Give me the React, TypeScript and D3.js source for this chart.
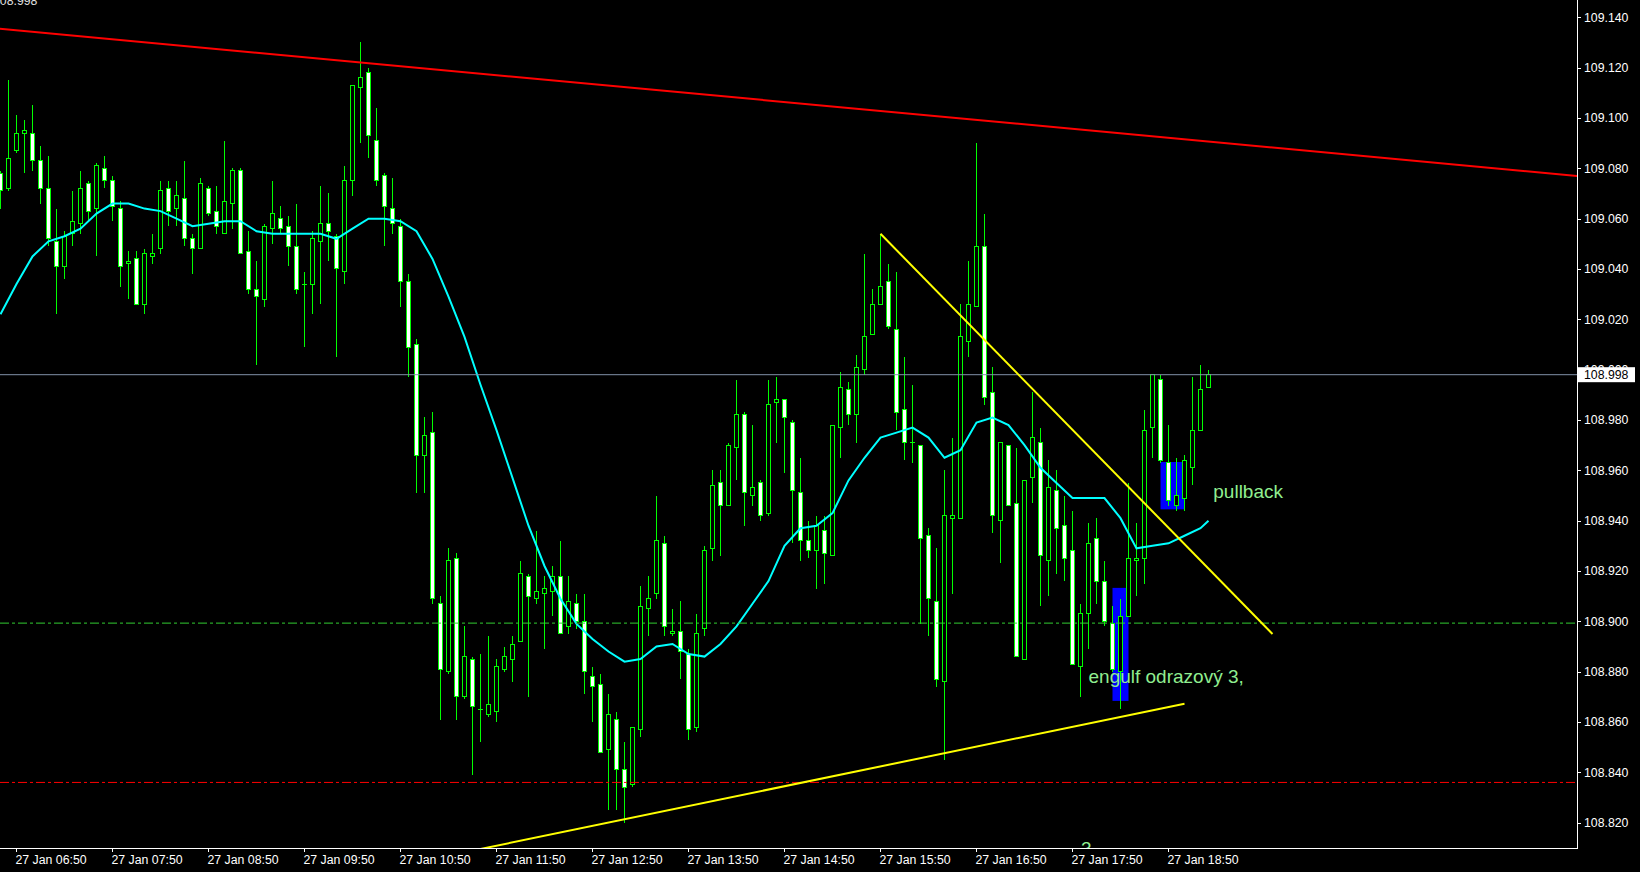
import React from "react";
import * as d3 from "d3";

// ---------- DATA (USDJPY M5, 27 Jan) ----------
// candle index 0 = 27 Jan 06:40, one candle every 5 minutes
const candleOpen = [
  109.078,109.072,109.087,109.094,109.094,109.083,109.072,109.051,109.041,109.054,109.058,109.074,
  109.064,109.080,109.075,109.064,109.042,109.044,109.026,109.045,109.048,109.072,109.064,109.068,
  109.052,109.048,109.072,109.063,109.054,109.066,109.079,109.047,109.032,109.028,109.056,109.060,
  109.057,109.049,109.034,109.034,109.051,109.058,109.053,109.039,109.075,109.112,109.118,109.091,
  109.077,109.064,109.057,109.035,109.010,108.966,108.975,108.907,108.880,108.925,108.870,108.885,
  108.865,108.863,108.864,108.881,108.885,108.892,108.918,108.909,108.911,108.912,108.918,108.898,
  108.907,108.900,108.878,108.875,108.849,108.861,108.841,108.835,108.857,108.905,108.911,108.931,
  108.895,108.896,108.887,108.858,108.897,108.929,108.955,108.946,108.969,108.982,108.950,108.955,
  108.943,108.987,108.988,108.979,108.951,108.932,108.928,108.936,108.926,108.977,108.992,108.982,
  109.000,109.014,109.026,109.035,109.016,108.984,108.971,108.970,108.934,108.908,108.876,108.941,
  108.941,109.011,109.025,109.049,108.991,108.940,108.970,108.947,108.885,108.957,108.971,108.924,
  108.952,108.938,108.928,108.882,108.903,108.933,108.916,108.899,108.880,108.902,108.924,108.925,
  108.977,108.996,108.963,108.946,108.949,108.961,108.976,108.993,
];
const candleHigh = [
  109.079,109.115,109.101,109.099,109.105,109.089,109.085,109.064,109.055,109.071,109.079,109.075,
  109.082,109.085,109.077,109.067,109.047,109.047,109.048,109.054,109.075,109.075,109.075,109.083,
  109.054,109.076,109.073,109.073,109.091,109.080,109.080,109.055,109.043,109.058,109.075,109.065,
  109.061,109.066,109.039,109.055,109.073,109.070,109.054,109.081,109.113,109.130,109.120,109.104,
  109.078,109.076,109.060,109.038,109.012,108.981,108.983,108.910,108.929,108.927,108.898,108.886,
  108.887,108.894,108.885,108.890,108.894,108.924,108.919,108.936,108.918,108.922,108.932,108.918,
  108.911,108.911,108.882,108.879,108.871,108.864,108.852,108.858,108.914,108.918,108.950,108.934,
  108.905,108.908,108.889,108.903,108.930,108.960,108.960,108.971,108.996,108.983,108.978,108.956,
  108.996,108.997,108.988,108.980,108.965,108.940,108.942,108.942,108.978,108.999,108.995,109.006,
  109.046,109.032,109.054,109.042,109.039,109.005,108.994,108.970,108.937,108.929,108.960,108.973,
  109.026,109.043,109.090,109.062,109.001,108.971,108.970,108.969,108.956,108.991,108.977,108.964,
  108.960,108.950,108.944,108.907,108.939,108.941,108.924,108.906,108.909,108.955,108.939,108.984,
  108.998,108.998,108.978,108.965,108.966,108.997,109.002,109.000,
];
const candleLow = [
  109.064,109.071,109.086,109.078,109.079,109.066,109.049,109.022,109.036,109.049,109.054,109.059,
  109.045,109.072,109.059,109.033,109.028,109.026,109.022,109.042,109.046,109.057,109.057,109.049,
  109.038,109.048,109.061,109.054,109.054,109.056,109.046,109.030,109.002,109.025,109.050,109.054,
  109.041,109.030,109.009,109.022,109.026,109.043,109.005,109.034,109.069,109.090,109.084,109.073,
  109.049,109.054,109.025,108.997,108.951,108.951,108.907,108.861,108.879,108.861,108.869,108.839,
  108.852,108.862,108.860,108.880,108.876,108.892,108.870,108.907,108.889,108.902,108.895,108.895,
  108.897,108.871,108.860,108.848,108.825,108.825,108.820,108.834,108.854,108.894,108.909,108.894,
  108.894,108.877,108.853,108.856,108.894,108.924,108.926,108.946,108.956,108.938,108.946,108.940,
  108.942,108.971,108.959,108.931,108.924,108.925,108.913,108.915,108.926,108.965,108.978,108.971,
  108.998,109.014,109.026,109.016,108.976,108.964,108.963,108.899,108.894,108.874,108.845,108.911,
  108.941,109.005,109.025,108.986,108.935,108.923,108.946,108.886,108.885,108.947,108.906,108.910,
  108.919,108.916,108.883,108.870,108.889,108.907,108.898,108.880,108.865,108.902,108.910,108.915,
  108.965,108.963,108.946,108.944,108.944,108.954,108.976,108.993,
];
const candleClose = [
  109.071,109.084,109.094,109.095,109.083,109.072,109.052,109.041,109.053,109.059,109.072,109.063,
  109.081,109.075,109.065,109.041,109.043,109.026,109.046,109.046,109.071,109.063,109.069,109.052,
  109.048,109.074,109.062,109.057,109.067,109.079,109.046,109.032,109.029,109.057,109.062,109.056,
  109.049,109.032,109.034,109.052,109.058,109.055,109.040,109.075,109.113,109.116,109.093,109.075,
  109.065,109.058,109.035,109.009,108.966,108.974,108.909,108.881,108.924,108.870,108.886,108.866,
  108.865,108.867,108.882,108.886,108.891,108.919,108.910,108.912,108.913,108.918,108.895,108.908,
  108.900,108.880,108.874,108.848,108.863,108.841,108.834,108.858,108.906,108.909,108.932,108.898,
  108.896,108.888,108.857,108.895,108.928,108.954,108.946,108.970,108.982,108.951,108.953,108.942,
  108.986,108.988,108.981,108.952,108.932,108.928,108.938,108.927,108.978,108.993,108.982,109.001,
  109.013,109.026,109.033,109.017,108.983,108.971,108.971,108.933,108.909,108.877,108.942,108.942,
  109.013,109.026,109.049,108.989,108.942,108.971,108.946,108.886,108.956,108.973,108.926,108.953,
  108.937,108.925,108.883,108.903,108.931,108.916,108.900,108.881,108.902,108.925,108.925,108.976,
  108.998,108.964,108.948,108.950,108.964,108.976,108.992,108.998,
];

// moving average, read every second candle (index 0,2,...,150) plus the last one (151)
const maIndex = [...d3.range(0, 151, 2), 151];
const maValue = [
  109.022,109.034,109.045,109.051,109.053,109.056,109.062,109.066,109.066,109.064,109.063,109.060,
  109.057,109.058,109.059,109.059,109.055,109.054,109.054,109.054,109.054,109.052,109.056,109.060,
  109.060,109.059,109.055,109.044,109.029,109.013,108.994,108.976,108.957,108.938,108.922,108.909,
  108.899,108.893,108.888,108.884,108.885,108.890,108.891,108.887,108.886,108.891,108.898,108.907,
  108.916,108.930,108.937,108.938,108.943,108.956,108.965,108.973,108.975,108.977,108.973,108.965,
  108.968,108.979,108.981,108.978,108.970,108.961,108.955,108.949,108.949,108.949,108.941,108.929,
  108.930,108.931,108.934,108.937,108.940,
];

const timeTickIndex = [2, 14, 26, 38, 50, 62, 74, 86, 98, 110, 122, 134, 146];
const timeTickLabels = [
  "27 Jan 06:50","27 Jan 07:50","27 Jan 08:50","27 Jan 09:50","27 Jan 10:50","27 Jan 11:50",
  "27 Jan 12:50","27 Jan 13:50","27 Jan 14:50","27 Jan 15:50","27 Jan 16:50","27 Jan 17:50","27 Jan 18:50",
];
const priceTicks = [109.14,109.12,109.10,109.08,109.06,109.04,109.02,109.00,108.98,108.96,108.94,108.92,108.90,108.88,108.86,108.84,108.82];

const currentPrice = 108.998;
const greenLevel = 108.8993;
const redLevel = 108.836;

// trend lines: [index, price] pairs
const redTrend = [[-1, 109.1357], [198, 109.0767]];
const yellowDown = [[110, 109.054], [159, 108.895]];
const yellowUp = [[52, 108.8043], [148, 108.8673]];

// rectangles: [index from, index to, price top, price bottom]
const blueRects = [
  [139, 141, 108.9133, 108.8684],
  [145, 148, 108.9633, 108.9445],
];

const notes = [
  { text: "pullback", i: 151.6, p: 108.9489 },
  { text: "engulf odrazový 3,", i: 136, p: 108.8754 },
  { text: "3", i: 135.06, p: 108.8070 },
];

const W = 1640;
const H = 872;
const plotRight = 1577;
const plotBottom = 848;
const FONT = "'Liberation Sans', Arial, sans-serif";

export default function App() {
  React.useEffect(() => {
    document.body.style.margin = "0";
    document.body.style.background = "#000";
  }, []);

  const x = d3.scaleLinear().domain([0, 151]).range([0.5, 1208.5]);
  const y = d3.scaleLinear().domain([108.82, 109.14]).range([822.7, 17.3]);

  const candles = candleOpen.map((o, i) => {
    const c = candleClose[i];
    const h = Math.max(candleHigh[i], o, c);
    const l = Math.min(candleLow[i], o, c);
    return { i, o, h, l, c };
  });

  const maLine = d3
    .line<number>()
    .x((_, k) => x(maIndex[k]))
    .y((v) => y(v))(maValue) as string;

  const seg = (pts: number[][]) =>
    d3.line<number[]>().x((d) => x(d[0])).y((d) => y(d[1]))(pts) as string;

  return (
    <svg
      width={W}
      height={H}
      style={{ position: "absolute", left: 0, top: 0, display: "block", background: "#000" }}
    >
      <defs>
        <clipPath id="plot">
          <rect x={0} y={0} width={plotRight} height={plotBottom} />
        </clipPath>
      </defs>
      <rect x={0} y={0} width={W} height={H} fill="#000" />

      <g clipPath="url(#plot)">
        {/* truncated header value */}
        <text x={-7} y={4.5} fontFamily={FONT} fontSize={12.3} fill="#e0e0e0">
          108.998
        </text>

        {blueRects.map((r, k) => (
          <rect
            key={"br" + k}
            x={x(r[0])}
            y={y(r[2])}
            width={x(r[1]) - x(r[0])}
            height={y(r[3]) - y(r[2])}
            fill="#0000ff"
          />
        ))}

        {candles.map((d) => {
          const cx = x(d.i);
          const top = y(Math.max(d.o, d.c));
          const bot = y(Math.min(d.o, d.c));
          const bull = d.c > d.o;
          const doji = Math.abs(d.c - d.o) < 0.0005;
          return (
            <g key={"c" + d.i} shapeRendering="crispEdges">
              <line x1={cx} x2={cx} y1={y(d.h)} y2={y(d.l)} stroke="#00ff00" strokeWidth={1} />
              {doji ? (
                <line x1={cx - 2.5} x2={cx + 2.5} y1={top} y2={top} stroke="#00ff00" strokeWidth={1} />
              ) : (
                <rect
                  x={cx - 2}
                  y={top}
                  width={4}
                  height={Math.max(bot - top, 1)}
                  fill={bull ? "#000000" : "#ffffff"}
                  stroke="#00ff00"
                  strokeWidth={1}
                />
              )}
            </g>
          );
        })}

        <path d={maLine} fill="none" stroke="#00ffff" strokeWidth={2} />

        <line x1={0} x2={plotRight} y1={y(currentPrice)} y2={y(currentPrice)} stroke="#8090a8" strokeWidth={1} />
        <line
          x1={0}
          x2={plotRight}
          y1={y(greenLevel)}
          y2={y(greenLevel)}
          stroke="#32cd32"
          strokeWidth={1}
          strokeDasharray="9,3,3,3"
        />
        <line
          x1={0}
          x2={plotRight}
          y1={y(redLevel)}
          y2={y(redLevel)}
          stroke="#ff0000"
          strokeWidth={1}
          strokeDasharray="9,3,3,3"
        />

        <path d={seg(redTrend)} stroke="#ff0000" strokeWidth={2} fill="none" />
        <path d={seg(yellowDown)} stroke="#ffff00" strokeWidth={2} fill="none" />
        <path d={seg(yellowUp)} stroke="#ffff00" strokeWidth={2} fill="none" />

        {notes.map((n, k) => (
          <text key={"n" + k} x={x(n.i)} y={y(n.p)} fontFamily={FONT} fontSize={19} fill="#90ee90">
            {n.text}
          </text>
        ))}
      </g>

      {/* axes */}
      <line x1={plotRight + 0.5} x2={plotRight + 0.5} y1={0} y2={plotBottom + 1} stroke="#ffffff" strokeWidth={1} />
      <line x1={0} x2={plotRight + 1} y1={plotBottom + 0.5} y2={plotBottom + 0.5} stroke="#ffffff" strokeWidth={1} />

      {timeTickIndex.map((ti, k) => (
        <g key={"t" + k}>
          <line x1={x(ti)} x2={x(ti)} y1={plotBottom} y2={plotBottom + 4} stroke="#ffffff" strokeWidth={1} />
          <text x={x(ti) - 1} y={864} fontFamily={FONT} fontSize={12.3} fill="#ffffff">
            {timeTickLabels[k]}
          </text>
        </g>
      ))}

      {priceTicks.map((p, k) => (
        <g key={"p" + k}>
          <line x1={plotRight + 1} x2={plotRight + 4} y1={Math.round(y(p)) + 0.5} y2={Math.round(y(p)) + 0.5} stroke="#ffffff" strokeWidth={1} />
          <text x={1584} y={y(p) + 4.4} fontFamily={FONT} fontSize={12.3} fill="#ffffff">
            {p.toFixed(3)}
          </text>
        </g>
      ))}

      <rect x={plotRight + 1} y={y(currentPrice) - 7.5} width={57} height={15} fill="#ffffff" />
      <text x={1584} y={y(currentPrice) + 4.4} fontFamily={FONT} fontSize={12.3} fill="#000000">
        {currentPrice.toFixed(3)}
      </text>
    </svg>
  );
}
